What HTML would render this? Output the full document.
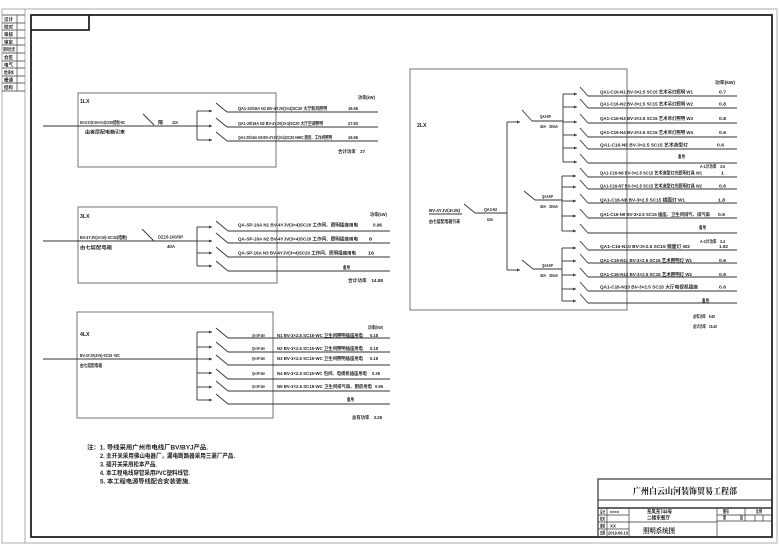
<!DOCTYPE html>
<html><head><meta charset="utf-8"><style>
html,body{margin:0;padding:0;background:#fff;}
svg{display:block;}
text{font-family:"Liberation Sans","Noto Sans CJK SC",sans-serif;font-size:4.6px;font-weight:bold;fill:#222;}
.t{font-size:5.2px;}
.n{font-size:6px;}
.ttl{font-family:"Liberation Serif","Noto Serif CJK SC",serif;font-size:8.5px;font-weight:bold;fill:#111;}
.l{stroke:#333;stroke-width:0.9;fill:none;}
.g{stroke:#666;stroke-width:0.9;fill:none;}
.k{stroke:#222;stroke-width:1.8;fill:none;}
.th{stroke:#999;stroke-width:0.8;fill:none;}
</style></head><body>
<svg width="780" height="553" viewBox="0 0 780 553" xmlns="http://www.w3.org/2000/svg">
<defs><marker id="a" markerWidth="4" markerHeight="4" refX="3" refY="2" orient="auto" markerUnits="userSpaceOnUse"><path d="M0,0.5 L3,2 L0,3.5 z" fill="#333"/></marker></defs>

<!-- outer frames -->
<rect x="2" y="9" width="775" height="534" class="th"/>
<line x1="25" y1="9" x2="25" y2="543" class="th"/>
<rect x="31" y="15" width="741" height="522" class="k"/>
<polyline points="31,30 89,30 89,15" class="k"/>

<!-- legend table -->
<g class="g">
<line x1="2" y1="15" x2="25" y2="15"/><line x1="2" y1="23" x2="25" y2="23"/><line x1="2" y1="30" x2="25" y2="30"/>
<line x1="2" y1="38" x2="25" y2="38"/><line x1="2" y1="45" x2="25" y2="45"/><line x1="2" y1="53" x2="25" y2="53"/>
<line x1="2" y1="61" x2="25" y2="61"/><line x1="2" y1="68" x2="25" y2="68"/><line x1="2" y1="76" x2="25" y2="76"/>
<line x1="2" y1="83" x2="25" y2="83"/><line x1="2" y1="91" x2="25" y2="91"/>
<line x1="17" y1="15" x2="17" y2="91"/>
</g>
<text x="4" y="21" textLength="9" lengthAdjust="spacingAndGlyphs">设计</text>
<text x="4" y="28.5" textLength="9" lengthAdjust="spacingAndGlyphs">校对</text>
<text x="4" y="36" textLength="9" lengthAdjust="spacingAndGlyphs">审核</text>
<text x="4" y="43.5" textLength="9" lengthAdjust="spacingAndGlyphs">审定</text>
<text x="3" y="51" textLength="12" lengthAdjust="spacingAndGlyphs">项目负责</text>
<text x="4" y="59" textLength="9" lengthAdjust="spacingAndGlyphs">会签</text>
<text x="4" y="66.5" textLength="9" lengthAdjust="spacingAndGlyphs">电气</text>
<text x="4" y="74" textLength="10" lengthAdjust="spacingAndGlyphs">给排水</text>
<text x="4" y="81.5" textLength="9" lengthAdjust="spacingAndGlyphs">暖通</text>
<text x="4" y="89" textLength="9" lengthAdjust="spacingAndGlyphs">结构</text>

<!-- ============ BOX 1 ============ -->
<rect x="78" y="93" width="198" height="74" class="g"/>
<text class="t" x="80" y="103">1LX</text>
<line x1="43" y1="126" x2="197" y2="126" class="l"/>
<line x1="143" y1="114" x2="154" y2="125" class="l"/>
<text x="80" y="124" textLength="45" lengthAdjust="spacingAndGlyphs">BV-4YJV(3×16+2×10)SC50(暗敷)-WC</text>
<text x="85" y="133.5" textLength="40" lengthAdjust="spacingAndGlyphs">由首层配电箱引来</text>
<text x="158" y="124" textLength="5" lengthAdjust="spacingAndGlyphs">隔</text>
<text x="172" y="124" textLength="6" lengthAdjust="spacingAndGlyphs">32A</text>
<line x1="197" y1="111" x2="197" y2="140" class="l"/>
<g class="l">
<line x1="197" y1="111" x2="212" y2="111" marker-end="url(#a)"/>
<line x1="197" y1="126" x2="212" y2="126" marker-end="url(#a)"/>
<line x1="197" y1="140" x2="212" y2="140" marker-end="url(#a)"/>
<line x1="216" y1="103" x2="227" y2="112"/><line x1="227" y1="112" x2="378" y2="112"/>
<line x1="216" y1="118" x2="227" y2="127"/><line x1="227" y1="127" x2="378" y2="127"/>
<line x1="216" y1="132" x2="227" y2="141"/><line x1="227" y1="141" x2="378" y2="141"/>
</g>
<text x="358" y="99" textLength="17" lengthAdjust="spacingAndGlyphs">功率(kW)</text>
<text x="238" y="110" textLength="89" lengthAdjust="spacingAndGlyphs">QA1-20/16A N1 BV-4YJV(3×4)SC20 大厅新风照明</text>
<text x="238" y="125" textLength="85" lengthAdjust="spacingAndGlyphs">QA1-20/16A N2 BV-4YJV(3×4)SC20 大厅空调照明</text>
<text x="238" y="139" textLength="94" lengthAdjust="spacingAndGlyphs">QA1-20/16A N3 BV-4YJV(3×4)SC20 NHIC 厨房、工作间照明</text>
<text x="348" y="110" textLength="10" lengthAdjust="spacingAndGlyphs">16.56</text>
<text x="348" y="125" textLength="10" lengthAdjust="spacingAndGlyphs">27.93</text>
<text x="348" y="139" textLength="10" lengthAdjust="spacingAndGlyphs">16.56</text>
<text x="338" y="153" textLength="27" lengthAdjust="spacingAndGlyphs">合计功率　27</text>

<!-- ============ BOX 2 ============ -->
<rect x="78" y="207" width="199" height="76" class="g"/>
<text class="t" x="80" y="218">3LX</text>
<line x1="43" y1="241" x2="197" y2="241" class="l"/>
<line x1="142" y1="229" x2="154" y2="241" class="l"/>
<text x="80" y="239" textLength="47" lengthAdjust="spacingAndGlyphs">BV-4YJV(4×10)-SC32(暗敷)</text>
<text x="80" y="249" textLength="32" lengthAdjust="spacingAndGlyphs">由七层配电箱</text>
<text x="158" y="238.5" textLength="25" lengthAdjust="spacingAndGlyphs">DZ15-100/3P</text>
<text x="167" y="248" textLength="8" lengthAdjust="spacingAndGlyphs">40A</text>
<line x1="197" y1="227" x2="197" y2="266" class="l"/>
<g class="l">
<line x1="197" y1="227" x2="212" y2="227" marker-end="url(#a)"/>
<line x1="197" y1="241" x2="212" y2="241" marker-end="url(#a)"/>
<line x1="197" y1="253" x2="212" y2="253" marker-end="url(#a)"/>
<line x1="197" y1="266" x2="212" y2="266" marker-end="url(#a)"/>
<line x1="216" y1="221" x2="228" y2="231"/><line x1="228" y1="231" x2="390" y2="231"/>
<line x1="216" y1="233" x2="228" y2="243"/><line x1="228" y1="243" x2="390" y2="243"/>
<line x1="216" y1="247" x2="228" y2="257"/><line x1="228" y1="257" x2="390" y2="257"/>
<line x1="216" y1="261" x2="228" y2="271"/><line x1="228" y1="271" x2="390" y2="271"/>
</g>
<text x="370" y="216" textLength="17" lengthAdjust="spacingAndGlyphs">功率(kW)</text>
<text x="238" y="226.5" textLength="120" lengthAdjust="spacingAndGlyphs">QA-SP-16A N1 BV-4YJV(3×4)SC20 工作间、照明插座用电</text>
<text x="238" y="240.5" textLength="120" lengthAdjust="spacingAndGlyphs">QA-SP-16A N2 BV-4YJV(3×4)SC20 工作间、照明插座用电</text>
<text x="238" y="254.5" textLength="118" lengthAdjust="spacingAndGlyphs">QA-SP-16A N3 BV-4YJV(3×4)SC20 工作间、照明插座用电</text>
<text x="373" y="226.5" textLength="9" lengthAdjust="spacingAndGlyphs">0.96</text>
<text x="369" y="240.5" textLength="3" lengthAdjust="spacingAndGlyphs">8</text>
<text x="368" y="254.5" textLength="6" lengthAdjust="spacingAndGlyphs">16</text>
<text x="343" y="269" textLength="7" lengthAdjust="spacingAndGlyphs">备用</text>
<text x="348" y="282" textLength="35" lengthAdjust="spacingAndGlyphs">合计功率　14.88</text>

<!-- ============ BOX 3 ============ -->
<rect x="77" y="312" width="196" height="106" class="g"/>
<text class="t" x="80" y="336">4LX</text>
<line x1="43" y1="359" x2="197" y2="359" class="l"/>
<text x="80" y="357" textLength="40" lengthAdjust="spacingAndGlyphs">BV-4YJV(4×6)-SC25 -WC</text>
<text x="80" y="367" textLength="22" lengthAdjust="spacingAndGlyphs">由七层配电箱</text>
<line x1="197" y1="332" x2="197" y2="400" class="l"/>
<g class="l">
<line x1="197" y1="332" x2="212" y2="332" marker-end="url(#a)"/>
<line x1="197" y1="347" x2="212" y2="347" marker-end="url(#a)"/>
<line x1="197" y1="359" x2="212" y2="359" marker-end="url(#a)"/>
<line x1="197" y1="373" x2="212" y2="373" marker-end="url(#a)"/>
<line x1="197" y1="387" x2="212" y2="387" marker-end="url(#a)"/>
<line x1="197" y1="400" x2="212" y2="400" marker-end="url(#a)"/>
<line x1="216" y1="328" x2="228" y2="338"/><line x1="228" y1="338" x2="390" y2="338"/>
<line x1="216" y1="342" x2="228" y2="352"/><line x1="228" y1="352" x2="390" y2="352"/>
<line x1="216" y1="355" x2="228" y2="365"/><line x1="228" y1="365" x2="390" y2="365"/>
<line x1="216" y1="369" x2="228" y2="379"/><line x1="228" y1="379" x2="390" y2="379"/>
<line x1="216" y1="381" x2="228" y2="391"/><line x1="228" y1="391" x2="390" y2="391"/>
<line x1="216" y1="394" x2="228" y2="404"/><line x1="228" y1="404" x2="390" y2="404"/>
</g>
<text x="368" y="329" textLength="15" lengthAdjust="spacingAndGlyphs">功率(kW)</text>
<text x="252" y="337" textLength="13" lengthAdjust="spacingAndGlyphs">QA-SP-16A</text>
<text x="252" y="350" textLength="13" lengthAdjust="spacingAndGlyphs">QA-SP-16A</text>
<text x="252" y="360" textLength="13" lengthAdjust="spacingAndGlyphs">QA-SP-16A</text>
<text x="252" y="375" textLength="13" lengthAdjust="spacingAndGlyphs">QA-SP-16A</text>
<text x="252" y="388" textLength="13" lengthAdjust="spacingAndGlyphs">QA-SP-16A</text>
<text x="277" y="337" textLength="86" lengthAdjust="spacingAndGlyphs">N1 BV-3×2.5 SC15-WC 卫生间照明插座用电</text>
<text x="277" y="350" textLength="86" lengthAdjust="spacingAndGlyphs">N2 BV-3×2.5 SC15-WC 卫生间照明插座用电</text>
<text x="277" y="360" textLength="86" lengthAdjust="spacingAndGlyphs">N3 BV-3×2.5 SC15-WC 卫生间照明插座用电</text>
<text x="277" y="375" textLength="90" lengthAdjust="spacingAndGlyphs">N4 BV-3×2.5 SC15-WC 包间、电视机插座用电</text>
<text x="277" y="388" textLength="95" lengthAdjust="spacingAndGlyphs">N5 BV-3×2.5 SC15-WC 卫生间排气扇、厨房用电</text>
<text x="370" y="337" textLength="8" lengthAdjust="spacingAndGlyphs">0.18</text>
<text x="370" y="350" textLength="8" lengthAdjust="spacingAndGlyphs">0.18</text>
<text x="370" y="360" textLength="8" lengthAdjust="spacingAndGlyphs">0.18</text>
<text x="372" y="375" textLength="8" lengthAdjust="spacingAndGlyphs">0.36</text>
<text x="375" y="388" textLength="8" lengthAdjust="spacingAndGlyphs">0.96</text>
<text x="347" y="401" textLength="7" lengthAdjust="spacingAndGlyphs">备用</text>
<text x="352" y="419" textLength="30" lengthAdjust="spacingAndGlyphs">总有功率　3.28</text>

<!-- ============ RIGHT BOX ============ -->
<rect x="410" y="69" width="217" height="241" class="g"/>
<text class="t" x="417" y="127">2LX</text>
<text x="429" y="212" textLength="31" lengthAdjust="spacingAndGlyphs">BV-4YJV(4×25)</text>
<line x1="429" y1="214" x2="462" y2="214" class="l"/>
<text x="429" y="223" textLength="31" lengthAdjust="spacingAndGlyphs">由七层配电箱引来</text>
<g class="l">
<line x1="464" y1="204" x2="475" y2="213"/>
<line x1="475" y1="213" x2="507" y2="213"/>
<line x1="507" y1="122" x2="507" y2="270"/>
<line x1="507" y1="122" x2="520" y2="122" marker-end="url(#a)"/>
<line x1="522" y1="110" x2="532" y2="121"/>
<line x1="532" y1="121" x2="563" y2="121"/>
<line x1="524" y1="191" x2="535" y2="200"/>
<line x1="535" y1="200" x2="562" y2="200"/>
<line x1="507" y1="270" x2="520" y2="270" marker-end="url(#a)"/>
<line x1="522" y1="260" x2="533" y2="269"/>
<line x1="533" y1="269" x2="562" y2="269"/>
<line x1="563" y1="94" x2="563" y2="162"/>
<line x1="562" y1="176" x2="562" y2="231"/>
<line x1="562" y1="248" x2="562" y2="301"/>
</g>
<text x="484" y="211" textLength="13" lengthAdjust="spacingAndGlyphs">QA3-63</text>
<text x="487" y="221" textLength="6" lengthAdjust="spacingAndGlyphs">63A</text>
<text x="540" y="118" textLength="11" lengthAdjust="spacingAndGlyphs">QA3-EP</text>
<text x="540" y="128" textLength="18" lengthAdjust="spacingAndGlyphs">40A　30mA</text>
<text x="542" y="198" textLength="11" lengthAdjust="spacingAndGlyphs">QA3-EP</text>
<text x="540" y="208" textLength="18" lengthAdjust="spacingAndGlyphs">40A　30mA</text>
<text x="542" y="267" textLength="11" lengthAdjust="spacingAndGlyphs">QA3-EP</text>
<text x="540" y="277" textLength="18" lengthAdjust="spacingAndGlyphs">40A　30mA</text>

<!-- group 1 -->
<g class="l">
<line x1="563" y1="94" x2="577" y2="94" marker-end="url(#a)"/>
<line x1="563" y1="107" x2="577" y2="107" marker-end="url(#a)"/>
<line x1="563" y1="122" x2="577" y2="122" marker-end="url(#a)"/>
<line x1="563" y1="135" x2="577" y2="135" marker-end="url(#a)"/>
<line x1="563" y1="148" x2="577" y2="148" marker-end="url(#a)"/>
<line x1="563" y1="162" x2="577" y2="162" marker-end="url(#a)"/>
<line x1="580" y1="87" x2="588" y2="96"/><line x1="588" y1="96" x2="737" y2="96"/>
<line x1="580" y1="99" x2="588" y2="108"/><line x1="588" y1="108" x2="737" y2="108"/>
<line x1="580" y1="114" x2="588" y2="123"/><line x1="588" y1="123" x2="737" y2="123"/>
<line x1="580" y1="128" x2="588" y2="137"/><line x1="588" y1="137" x2="737" y2="137"/>
<line x1="580" y1="140" x2="588" y2="149"/><line x1="588" y1="149" x2="737" y2="149"/>
<line x1="580" y1="154" x2="588" y2="163"/><line x1="588" y1="163" x2="737" y2="163"/>
</g>
<text x="715" y="84" textLength="20" lengthAdjust="spacingAndGlyphs">功率(kW)</text>
<text x="600" y="93.5" textLength="93" lengthAdjust="spacingAndGlyphs">QA1-C16-N1 BV-3×2.5 SC15 艺术吊灯照明 W1</text>
<text x="600" y="105.5" textLength="93" lengthAdjust="spacingAndGlyphs">QA1-C16-N2 BV-3×2.5 SC15 艺术吊灯照明 W2</text>
<text x="600" y="120" textLength="93" lengthAdjust="spacingAndGlyphs">QA1-C16-N3 BV-3×2.5 SC15 艺术吊灯照明 W3</text>
<text x="600" y="134" textLength="93" lengthAdjust="spacingAndGlyphs">QA1-C16-N4 BV-3×2.5 SC15 艺术吊灯照明 W4</text>
<text x="600" y="146.5" textLength="88" lengthAdjust="spacingAndGlyphs">QA1-C16-N5 BV-3×2.5 SC15 艺术造型灯</text>
<text x="719" y="93.5" textLength="7" lengthAdjust="spacingAndGlyphs">0.7</text>
<text x="719" y="105.5" textLength="7" lengthAdjust="spacingAndGlyphs">0.8</text>
<text x="719" y="120" textLength="7" lengthAdjust="spacingAndGlyphs">0.8</text>
<text x="719" y="134" textLength="7" lengthAdjust="spacingAndGlyphs">0.6</text>
<text x="717" y="146.5" textLength="7" lengthAdjust="spacingAndGlyphs">0.6</text>
<text x="678" y="158" textLength="7" lengthAdjust="spacingAndGlyphs">备用</text>
<text x="700" y="168" textLength="25" lengthAdjust="spacingAndGlyphs">A-1计功率　3.6</text>

<!-- group 2 -->
<g class="l">
<line x1="562" y1="176" x2="576" y2="176" marker-end="url(#a)"/>
<line x1="562" y1="187" x2="576" y2="187" marker-end="url(#a)"/>
<line x1="562" y1="201" x2="576" y2="201" marker-end="url(#a)"/>
<line x1="562" y1="216" x2="576" y2="216" marker-end="url(#a)"/>
<line x1="562" y1="231" x2="576" y2="231" marker-end="url(#a)"/>
<line x1="580" y1="168" x2="588" y2="177"/><line x1="588" y1="177" x2="737" y2="177"/>
<line x1="580" y1="180" x2="588" y2="189"/><line x1="588" y1="189" x2="737" y2="189"/>
<line x1="580" y1="194" x2="588" y2="203"/><line x1="588" y1="203" x2="737" y2="203"/>
<line x1="580" y1="209" x2="588" y2="218"/><line x1="588" y1="218" x2="737" y2="218"/>
<line x1="580" y1="224" x2="588" y2="233"/><line x1="588" y1="233" x2="737" y2="233"/>
</g>
<text x="600" y="174.5" textLength="102" lengthAdjust="spacingAndGlyphs">QA1-C16-N6 BV-3×2.5 SC15 艺术造型灯光照明灯具 W1</text>
<text x="600" y="187.5" textLength="102" lengthAdjust="spacingAndGlyphs">QA1-C16-N7 BV-3×2.5 SC15 艺术造型灯光照明灯具 W2</text>
<text x="600" y="201.5" textLength="85" lengthAdjust="spacingAndGlyphs">QA1-C16-N8 BV-3×2.5 SC15 镜面灯 W1</text>
<text x="600" y="216" textLength="110" lengthAdjust="spacingAndGlyphs">QA1-C16-N9 BV-3×2.5 SC15 插座、卫生间排气、排气扇</text>
<text x="721" y="174.5" textLength="3" lengthAdjust="spacingAndGlyphs">1</text>
<text x="719" y="187.5" textLength="7" lengthAdjust="spacingAndGlyphs">0.6</text>
<text x="718" y="201.5" textLength="7" lengthAdjust="spacingAndGlyphs">1.8</text>
<text x="718" y="216" textLength="7" lengthAdjust="spacingAndGlyphs">0.6</text>
<text x="699" y="229" textLength="7" lengthAdjust="spacingAndGlyphs">备用</text>
<text x="700" y="243" textLength="25" lengthAdjust="spacingAndGlyphs">A-2计功率　3.4</text>

<!-- group 3 -->
<g class="l">
<line x1="562" y1="248" x2="576" y2="248" marker-end="url(#a)"/>
<line x1="562" y1="261" x2="576" y2="261" marker-end="url(#a)"/>
<line x1="562" y1="275" x2="576" y2="275" marker-end="url(#a)"/>
<line x1="562" y1="289" x2="576" y2="289" marker-end="url(#a)"/>
<line x1="562" y1="301" x2="576" y2="301" marker-end="url(#a)"/>
<line x1="580" y1="241" x2="588" y2="250"/><line x1="588" y1="250" x2="737" y2="250"/>
<line x1="580" y1="254" x2="588" y2="263"/><line x1="588" y1="263" x2="737" y2="263"/>
<line x1="580" y1="268" x2="588" y2="277"/><line x1="588" y1="277" x2="737" y2="277"/>
<line x1="580" y1="282" x2="588" y2="291"/><line x1="588" y1="291" x2="737" y2="291"/>
<line x1="580" y1="294" x2="588" y2="303"/><line x1="588" y1="303" x2="737" y2="303"/>
</g>
<text x="600" y="248" textLength="90" lengthAdjust="spacingAndGlyphs">QA1-C16-N10 BV-3×2.5 SC15 镜面灯 W2</text>
<text x="600" y="262" textLength="92" lengthAdjust="spacingAndGlyphs">QA1-C16-N11 BV-3×2.5 SC15 艺术照明灯 W1</text>
<text x="600" y="276" textLength="92" lengthAdjust="spacingAndGlyphs">QA1-C16-N12 BV-3×2.5 SC15 艺术照明灯 W2</text>
<text x="600" y="288.5" textLength="98" lengthAdjust="spacingAndGlyphs">QA1-C16-N13 BV-3×2.5 SC15 大厅电视机插座</text>
<text x="719" y="248" textLength="9" lengthAdjust="spacingAndGlyphs">1.92</text>
<text x="719" y="262" textLength="7" lengthAdjust="spacingAndGlyphs">0.6</text>
<text x="719" y="276" textLength="7" lengthAdjust="spacingAndGlyphs">0.6</text>
<text x="719" y="288.5" textLength="7" lengthAdjust="spacingAndGlyphs">0.6</text>
<text x="702" y="302" textLength="7" lengthAdjust="spacingAndGlyphs">备用</text>
<text x="693" y="318" textLength="22" lengthAdjust="spacingAndGlyphs">总有功率　9.60</text>
<text x="693" y="328" textLength="24" lengthAdjust="spacingAndGlyphs">总计功率　15.40</text>

<!-- notes -->
<text class="n" x="87" y="449.5" textLength="121" lengthAdjust="spacingAndGlyphs">注：1. 导线采用广州市电线厂BV/BYJ产品.</text>
<text class="n" x="100" y="458" textLength="135" lengthAdjust="spacingAndGlyphs">2. 主开关采用佛山电器厂，漏电断路器采用三菱厂产品.</text>
<text class="n" x="100" y="466.5" textLength="57" lengthAdjust="spacingAndGlyphs">3. 插开关采用松本产品.</text>
<text class="n" x="100" y="475" textLength="90" lengthAdjust="spacingAndGlyphs">4. 本工程电线穿管采用PVC塑料线管.</text>
<text class="n" x="100" y="483.5" textLength="90" lengthAdjust="spacingAndGlyphs">5. 本工程电源导线配合安装要施.</text>

<!-- title block -->
<rect x="598" y="479" width="174" height="58" class="l" style="stroke-width:1.2"/>
<line x1="598" y1="500" x2="772" y2="500" class="l"/>
<line x1="598" y1="508" x2="772" y2="508" class="l" style="stroke-width:1.4"/>
<g class="l" style="stroke-width:0.7">
<line x1="607" y1="508" x2="607" y2="537"/>
<line x1="629" y1="508" x2="629" y2="537"/>
<line x1="717" y1="508" x2="717" y2="537"/>
<line x1="598" y1="515" x2="629" y2="515"/>
<line x1="598" y1="522" x2="629" y2="522"/>
<line x1="598" y1="529" x2="629" y2="529"/>
<line x1="629" y1="522" x2="717" y2="522"/>
<line x1="717" y1="515" x2="772" y2="515"/>
<line x1="717" y1="521" x2="772" y2="521"/>
<line x1="745" y1="508" x2="745" y2="521"/>
<line x1="755" y1="515" x2="755" y2="521"/>
<line x1="763" y1="515" x2="763" y2="521"/>
</g>
<text class="ttl" x="633" y="494" textLength="104" lengthAdjust="spacingAndGlyphs">广州白云山河装饰贸易工程部</text>
<text x="600" y="513.5" textLength="5" lengthAdjust="spacingAndGlyphs">设计</text>
<text x="600" y="520.5" textLength="5" lengthAdjust="spacingAndGlyphs">校对</text>
<text x="600" y="527.5" textLength="5" lengthAdjust="spacingAndGlyphs">审核</text>
<text x="600" y="534.5" textLength="5" lengthAdjust="spacingAndGlyphs">日期</text>
<text x="610" y="513.5" textLength="9" lengthAdjust="spacingAndGlyphs">××××</text>
<text x="610" y="527.5" textLength="6" lengthAdjust="spacingAndGlyphs">XX</text>
<text x="608" y="534.5" textLength="20" lengthAdjust="spacingAndGlyphs">2019.06.10</text>
<text class="t" x="647" y="513.5" textLength="25" lengthAdjust="spacingAndGlyphs">东风东744号</text>
<text class="t" x="647" y="519.5" textLength="23" lengthAdjust="spacingAndGlyphs">二楼东餐厅</text>
<text class="ttl" x="643" y="533" textLength="32" lengthAdjust="spacingAndGlyphs" style="font-size:7px">照明系统图</text>
<text x="723" y="513" textLength="6" lengthAdjust="spacingAndGlyphs">图号</text>
<text x="756" y="513" textLength="6" lengthAdjust="spacingAndGlyphs">比例</text>
<text x="723" y="519.5" textLength="3" lengthAdjust="spacingAndGlyphs">第</text>
<text x="740" y="519.5" textLength="3" lengthAdjust="spacingAndGlyphs">张</text>
</svg>
</body></html>
